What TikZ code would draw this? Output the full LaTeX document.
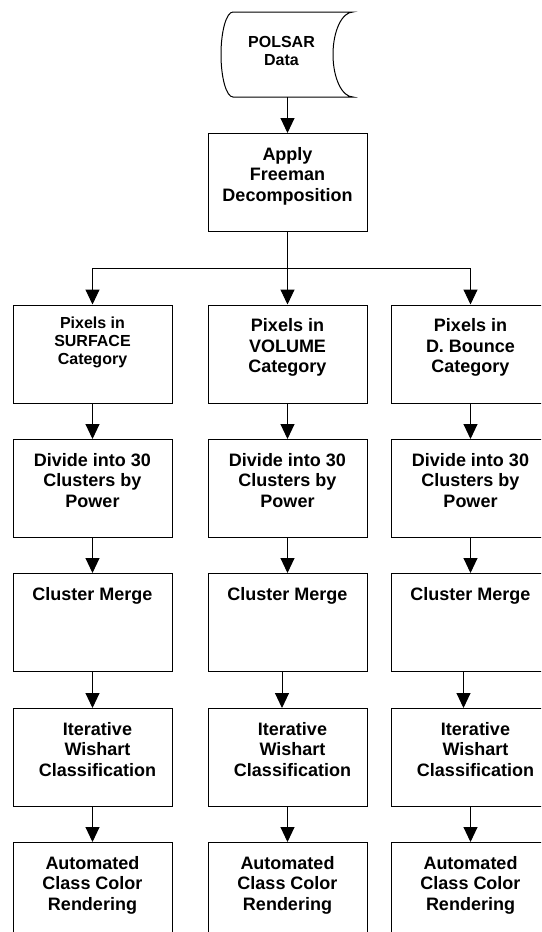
\documentclass[tikz,border=0pt]{standalone}
\usepackage{fontspec}
\setmainfont{Liberation Sans}
\usetikzlibrary{arrows.meta}
\newcommand\bxt[2][0pt]{\parbox[c][98pt][t]{159pt}{\bfseries\fontsize{18}{20.5}\selectfont\vspace*{13.5pt}\centering\leftskip=#1 plus 1fil\relax #2}}
\newcommand\bxs[1]{\parbox[c][98pt][t]{159pt}{\bfseries\fontsize{16}{18}\selectfont\vspace*{12pt}\centering #1}}
\begin{document}
\begin{tikzpicture}[x=1pt,y=-1pt,
  stepbox/.style={draw, line width=1pt, inner sep=0pt, anchor=north},
  arr/.style={line width=1pt, -{Triangle[width=14pt,length=15pt]}},
  plain/.style={line width=1pt}]
\useasboundingbox (0,0) rectangle (541,932);
\clip (0,0) rectangle (541,932);
\fill[white] (0,0) rectangle (541,932);
% data shape
\draw[plain] (233,12) -- (353,12) .. controls (342,12) and (333,31) .. (333,54.5)
  .. controls (333,78) and (342,97) .. (353,97) -- (233,97)
  .. controls (226.4,97) and (221,78) .. (221,54.5)
  .. controls (221,31) and (226.4,12) .. (233,12) -- cycle;
\node[inner sep=0pt, align=center, anchor=north, font=\bfseries\fontsize{16}{18.3}\selectfont] (polsar) at (281.5,36) {POLSAR\\Data};
\coordinate (polsarb) at (287.5,97);
\node[stepbox] (apply) at (287.5,133) {\bxt{Apply\\Freeman\\Decomposition}};
\draw[arr] (polsarb) -- (apply.north);
% row 1
\node[stepbox] (s1) at (92.5,304.5) {\bxs{Pixels in\\SURFACE\\Category}};
\node[stepbox] (v1) at (287.5,304.5) {\bxt{Pixels in\\VOLUME\\Category}};
\node[stepbox] (d1) at (470.5,304.5) {\bxt{Pixels in\\D. Bounce\\Category}};
% row 2
\node[stepbox] (s2) at (92.5,439) {\bxt{Divide into 30\\Clusters by\\Power}};
\node[stepbox] (v2) at (287.5,439) {\bxt{Divide into 30\\Clusters by\\Power}};
\node[stepbox] (d2) at (470.5,439) {\bxt{Divide into 30\\Clusters by\\Power}};
% row 3
\node[stepbox] (s3) at (92.5,573) {\bxt{Cluster Merge}};
\node[stepbox] (v3) at (287.5,573) {\bxt{Cluster Merge}};
\node[stepbox] (d3) at (470.5,573) {\bxt{Cluster Merge}};
% row 4
\node[stepbox] (s4) at (92.5,708) {\bxt[10pt]{Iterative\\Wishart\\Classification}};
\node[stepbox] (v4) at (287.5,708) {\bxt[10pt]{Iterative\\Wishart\\Classification}};
\node[stepbox] (d4) at (470.5,708) {\bxt[10pt]{Iterative\\Wishart\\Classification}};
% row 5
\node[stepbox] (s5) at (92.5,842) {\bxt{Automated\\Class Color\\Rendering}};
\node[stepbox] (v5) at (287.5,842) {\bxt{Automated\\Class Color\\Rendering}};
\node[stepbox] (d5) at (470.5,842) {\bxt{Automated\\Class Color\\Rendering}};
% split
\coordinate (split) at (287.5,268);
\draw[plain] (apply.south) -- (split);
\draw[arr] (split) -| (s1.north);
\draw[arr] (split) -| (d1.north);
\draw[arr] (split) -- (v1.north);
% column arrows
\foreach \c in {s,v,d}{
  \draw[arr] (\c1.south) -- (\c2.north);
  \draw[arr] (\c2.south) -- (\c3.north);
  \draw[arr] (\c4.south) -- (\c5.north);
}
\draw[arr] (s3.south) -- (s4.north);
\draw[arr] ([xshift=-5.5pt]v3.south) -- ([xshift=-5.5pt]v4.north);
\draw[arr] ([xshift=-7pt]d3.south) -- ([xshift=-7pt]d4.north);
\end{tikzpicture}
\end{document}
